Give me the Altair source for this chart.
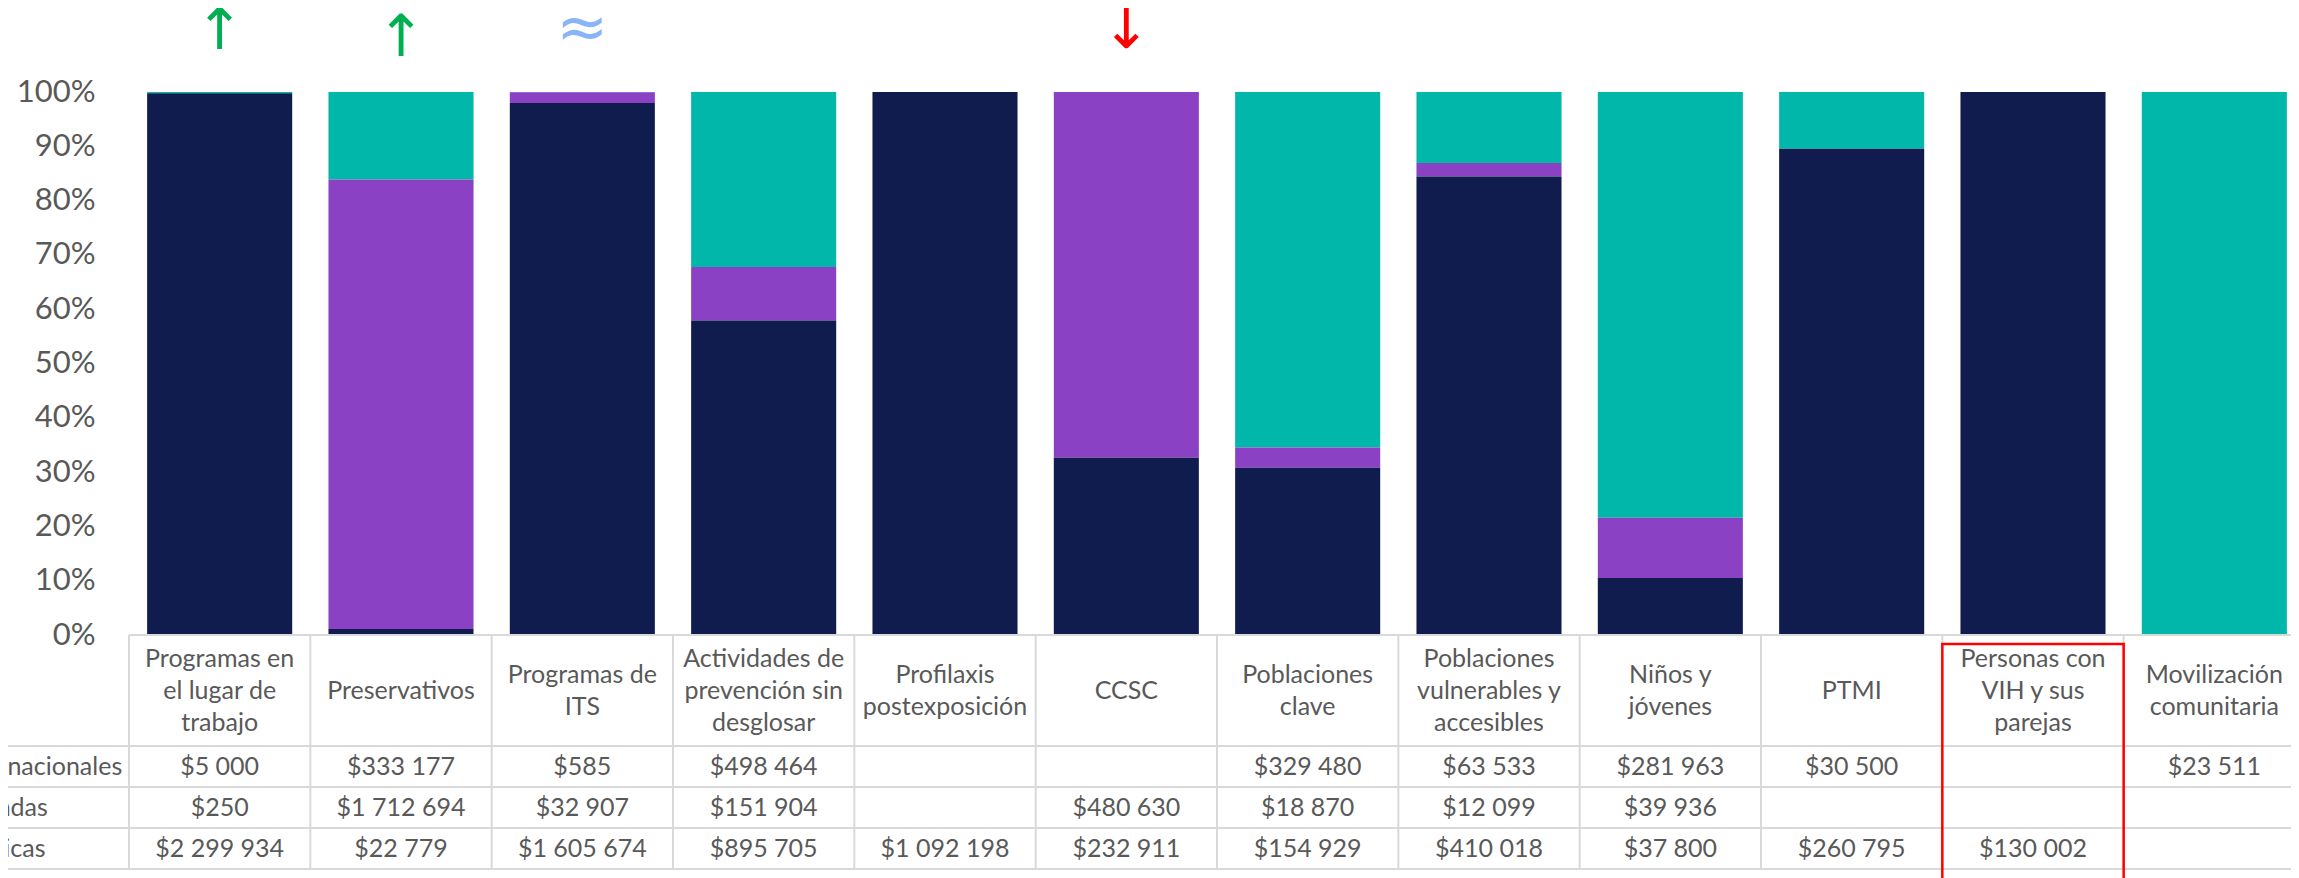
import altair as alt
import pandas as pd

# ---------------- data ----------------
categories = [
    "Programas en el lugar de trabajo", "Preservativos", "Programas de ITS",
    "Actividades de prevención sin desglosar", "Profilaxis postexposición", "CCSC",
    "Poblaciones clave", "Poblaciones vulnerables y accesibles", "Niños y jóvenes",
    "PTMI", "Personas con VIH y sus parejas", "Movilización comunitaria",
]
header_lines = [
    ["Programas en", "el lugar de", "trabajo"], ["Preservativos"], ["Programas de", "ITS"],
    ["Actividades de", "prevención sin", "desglosar"], ["Profilaxis", "postexposición"], ["CCSC"],
    ["Poblaciones", "clave"], ["Poblaciones", "vulnerables y", "accesibles"], ["Niños y", "jóvenes"],
    ["PTMI"], ["Personas con", "VIH y sus", "parejas"], ["Movilización", "comunitaria"],
]
sources = ["Fuentes internacionales", "Fuentes privadas", "Fuentes públicas"]
internacionales = [5000, 333177, 585, 498464, None, None, 329480, 63533, 281963, 30500, None, 23511]
privadas = [250, 1712694, 32907, 151904, None, 480630, 18870, 12099, 39936, None, None, None]
publicas = [2299934, 22779, 1605674, 895705, 1092198, 232911, 154929, 410018, 37800, 260795, 130002, None]
source_colors = ["#00B7AA", "#8B41C3", "#111C4E"]
stack_order = [2, 1, 0]

annot_cats = ["Programas en el lugar de trabajo", "Preservativos", "Programas de ITS", "CCSC"]
annot_symbols = ["↑", "↑", "≈", "↓"]
annot_colors = ["#00B050", "#00B050", "#8AB4F8", "#FF0000"]
highlight_cat = ["Personas con VIH y sus parejas"]

# ---------------- layout ----------------
PAD_LEFT = 121
VIEW_W = 2162
VIEW_H = 870
X_RANGE = 2176
Y0, Y100 = 627, 84
HEADER_MID = 682.5
LINE_H = 32
ROWS_TOP, ROWS_BOTTOM = 738, 861
LABEL_X = -266
ANNOT_Y = [24, 31, 21, 23]   # vertical placement of each annotation glyph (px)
ANNOT_SIZE = [58, 58, 62, 58]
FONT = "Lato"
TXT = "#595959"
GRIDC = "#D9D9D9"

series = [internacionales, privadas, publicas]
rows = []
for s, vals, o in zip(sources, series, stack_order):
    for c, v in zip(categories, vals):
        if v is not None:
            rows.append({"cat": c, "source": s, "value": v, "order": o,
                         "label": "$" + f"{v:,}".replace(",", " ")})
df = pd.DataFrame(rows)

hdr_rows = []
for c, lines in zip(categories, header_lines):
    n = len(lines)
    for i, t in enumerate(lines):
        hdr_rows.append({"cat": c, "line": t, "ly": HEADER_MID + (i - (n - 1) / 2) * LINE_H})
df_hdr = pd.DataFrame(hdr_rows)
df_cats = pd.DataFrame({"cat": categories})
df_src = pd.DataFrame({"source": sources})
df_ann = pd.DataFrame({"cat": annot_cats, "sym": annot_symbols, "col": annot_colors,
                       "ay": ANNOT_Y, "size": ANNOT_SIZE})
df_hl = pd.DataFrame({"cat": highlight_cat})

x_bar = alt.Scale(domain=categories, range=[0, X_RANGE], paddingInner=0.2, paddingOuter=0.1)
x_tab = alt.Scale(domain=categories, range=[0, X_RANGE], paddingInner=0, paddingOuter=0)
y_rows = alt.Scale(domain=sources, range=[ROWS_TOP, ROWS_BOTTOM], paddingInner=0, paddingOuter=0)

bars = alt.Chart(df).mark_bar().encode(
    x=alt.X("cat:N", scale=x_bar, axis=None, sort=categories),
    y=alt.Y("value:Q", stack="normalize",
            scale=alt.Scale(domain=[0, 1], range=[Y0, Y100], nice=False),
            axis=alt.Axis(format=".0%", values=[i / 10 for i in range(11)], ticks=False,
                          domain=False, grid=False, labelPadding=34, labelFontSize=31,
                          labelFont=FONT, labelColor=TXT, title=None)),
    color=alt.Color("source:N", scale=alt.Scale(domain=sources, range=source_colors), legend=None),
    order=alt.Order("order:Q"),
)

vlines = alt.Chart(df_cats).mark_rule(color=GRIDC, strokeWidth=2).encode(
    x=alt.X("cat:N", scale=x_tab, axis=None, bandPosition=0),
    y=alt.value(Y0), y2=alt.value(ROWS_BOTTOM),
)
top_line = alt.Chart(df_cats.head(1)).mark_rule(color=GRIDC, strokeWidth=2).encode(
    x=alt.X("cat:N", scale=x_tab, axis=None, bandPosition=0),
    x2=alt.value(VIEW_W), y=alt.value(Y0),
)
hlines = alt.Chart(df_src).mark_rule(color=GRIDC, strokeWidth=2).encode(
    y=alt.Y("source:N", scale=y_rows, axis=None, bandPosition=0),
    x=alt.value(-PAD_LEFT), x2=alt.value(VIEW_W),
)
bottom_line = alt.Chart(df_src.tail(1)).mark_rule(color=GRIDC, strokeWidth=2).encode(
    y=alt.Y("source:N", scale=y_rows, axis=None, bandPosition=1),
    x=alt.value(-PAD_LEFT), x2=alt.value(VIEW_W),
)
headers = alt.Chart(df_hdr).mark_text(font=FONT, fontSize=25, color=TXT,
                                      baseline="middle", align="center").encode(
    x=alt.X("cat:N", scale=x_tab, axis=None, bandPosition=0.5),
    y=alt.Y("ly:Q", scale=None, axis=None),
    text="line:N",
)
cells = alt.Chart(df).mark_text(font=FONT, fontSize=25, color=TXT, baseline="middle",
                                align="center").encode(
    x=alt.X("cat:N", scale=x_tab, axis=None, bandPosition=0.5),
    y=alt.Y("source:N", scale=y_rows, axis=None, bandPosition=0.5),
    text="label:N",
)
row_labels = alt.Chart(df_src).mark_text(font=FONT, fontSize=25, color=TXT, baseline="middle",
                                         align="left").encode(
    x=alt.value(LABEL_X),
    y=alt.Y("source:N", scale=y_rows, axis=None, bandPosition=0.5),
    text="source:N",
)
highlight = alt.Chart(df_hl).mark_rect(fill=None, fillOpacity=0, stroke="#FF0000", strokeWidth=2.5).encode(
    x=alt.X("cat:N", scale=x_tab, axis=None),
    y=alt.value(636), y2=alt.value(VIEW_H + 20),
)
annots = alt.Chart(df_ann).mark_text(font="DejaVu Sans", baseline="middle", align="center").encode(
    x=alt.X("cat:N", scale=x_bar, axis=None, bandPosition=0.5),
    y=alt.Y("ay:Q", scale=None, axis=None),
    text="sym:N",
    color=alt.Color("col:N", scale=None),
    size=alt.Size("size:Q", scale=None, legend=None),
)

chart = alt.layer(
    bars, vlines, top_line, hlines, bottom_line, headers, cells, row_labels, highlight, annots
).resolve_scale(x="independent", y="independent", color="independent", size="independent").properties(
    width=VIEW_W, height=VIEW_H,
    autosize=alt.AutoSizeParams(type="none"),
    padding={"left": PAD_LEFT, "top": 0, "right": 0, "bottom": 0},
).configure_view(stroke=None)

chart.save("out.html", embed_options={"renderer": "svg", "actions": False})
